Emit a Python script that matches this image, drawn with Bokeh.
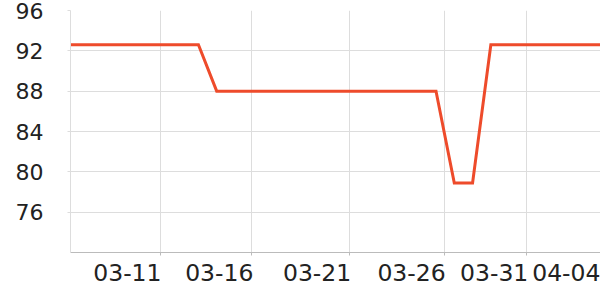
from bokeh.plotting import figure
from bokeh.models import Range1d, FixedTicker
from bokeh.embed import file_html
from bokeh.resources import INLINE

# ---- data ----
dates = ["03-06", "03-07", "03-08", "03-09", "03-10", "03-11", "03-12", "03-13",
         "03-14", "03-15", "03-16", "03-17", "03-18", "03-19", "03-20", "03-21",
         "03-22", "03-23", "03-24", "03-25", "03-26", "03-27", "03-28", "03-29",
         "03-30", "03-31", "04-01", "04-02", "04-03", "04-04"]
values = [92.6, 92.6, 92.6, 92.6, 92.6, 92.6, 92.6, 92.6,
          88.0, 88.0, 88.0, 88.0, 88.0, 88.0, 88.0, 88.0,
          88.0, 88.0, 88.0, 88.0, 88.0, 78.9, 78.9, 92.6,
          92.6, 92.6, 92.6, 92.6, 92.6, 92.6]
x_tick_labels = ["03-11", "03-16", "03-21", "03-26", "03-31", "04-04"]
x_tick_pos = [4.9, 9.93, 15.28, 20.45, 24.97, 29.0]
y_ticks = [76, 80, 84, 88, 92, 96]

x = list(range(len(dates)))

W, H = 600, 300
LEFT, RIGHT, TOP, BOTTOM = 70, 0, 10, 48
y0, y1 = 72, 96
font = "DejaVu Sans"
y_font_px = 22
x_font_px = 23.5
text_color = "#222222"

x_lo, x_hi = 0, len(dates) - 1
p = figure(width=W, height=H, output_backend="svg", toolbar_location=None,
           x_range=Range1d(x_lo, x_hi), y_range=Range1d(y0, y1),
           min_border_left=LEFT, min_border_right=RIGHT,
           min_border_top=TOP, min_border_bottom=BOTTOM)
p.outline_line_color = None
p.background_fill_color = "white"
p.border_fill_color = "white"

p.line(x, values, line_color="#ee4b2b", line_width=3, line_join="miter")

# grids
p.xgrid.ticker = FixedTicker(ticks=x_tick_pos[:-1])
p.ygrid.ticker = FixedTicker(ticks=y_ticks)
for g in (p.xgrid, p.ygrid):
    g.grid_line_color = "#dddddd"
    g.grid_line_width = 1

# x axis: labels right-aligned to their tick -> place label centres half a
# label width to the left; the real tick marks are drawn as "minor" ticks.
px_per_unit = (W - LEFT - RIGHT) / (x_hi - x_lo)
label_w_px = 2.78 * x_font_px
half_w_units = (label_w_px / 2) / px_per_unit
label_centres = [t - half_w_units for t in x_tick_pos]

xa = p.xaxis[0]
xa.ticker = FixedTicker(ticks=label_centres, minor_ticks=x_tick_pos[:-1])
xa.major_label_overrides = {c: lab for c, lab in zip(label_centres, x_tick_labels)}
xa.axis_line_color = "#bbbbbb"
xa.major_tick_line_color = None
xa.major_tick_out = 0
xa.major_tick_in = 0
xa.minor_tick_line_color = "#bbbbbb"
xa.minor_tick_out = 3
xa.minor_tick_in = 0
xa.major_label_standoff = 8
xa.major_label_text_font = font
xa.major_label_text_font_size = f"{x_font_px}px"
xa.major_label_text_color = text_color

# y axis
ya = p.yaxis[0]
ya.ticker = FixedTicker(ticks=y_ticks)
ya.axis_line_color = "#dddddd"
ya.major_tick_line_color = "#dddddd"
ya.major_tick_out = 3
ya.major_tick_in = 0
ya.minor_tick_line_color = None
ya.major_label_standoff = 24
ya.major_label_text_font = font
ya.major_label_text_font_size = f"{y_font_px}px"
ya.major_label_text_color = text_color

open("out.html", "w").write(file_html(p, INLINE))
